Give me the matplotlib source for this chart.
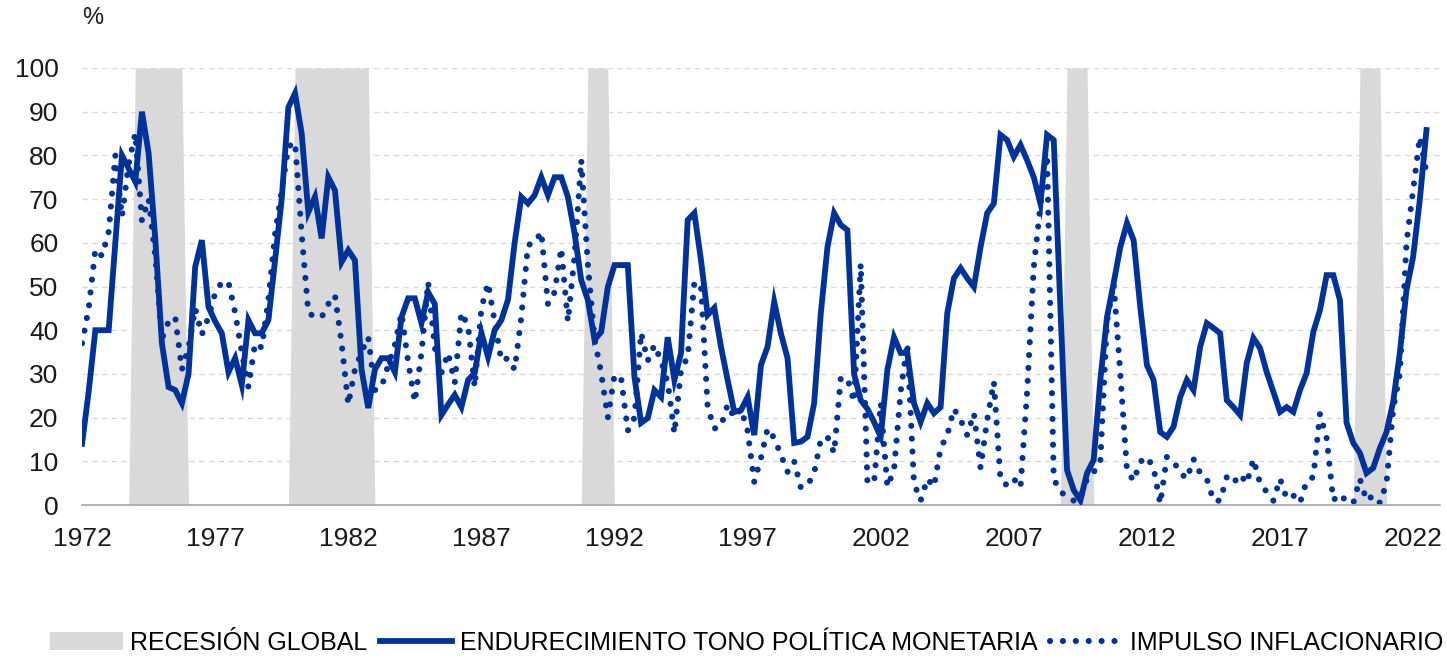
import numpy as np
import matplotlib
matplotlib.use("Agg")
import matplotlib.pyplot as plt
from matplotlib.patches import Patch
from matplotlib.lines import Line2D

plt.rcParams['font.family'] = ['Liberation Sans', 'DejaVu Sans']

# quarterly data, 1972Q1 .. 2022Q3
tightening = [
    14, 26, 40, 40,          # 1972
    40, 60, 80, 77,          # 1973
    74, 90, 80.5, 61,        # 1974
    37, 27, 26.3, 23.3,      # 1975
    30, 54.5, 60.6, 45.3,    # 1976
    42, 39.3, 30.4, 33.6,    # 1977
    27.5, 42.3, 39.3, 39.3,  # 1978
    42.3, 56, 70, 91,        # 1979
    94.2, 85, 67, 70.5,      # 1980
    61, 75, 72, 55.6,        # 1981
    58.3, 56, 31, 22.2,      # 1982
    31, 33.6, 33.6, 30.4,    # 1983
    43, 47.3, 47.3, 41.6,    # 1984
    48.7, 46, 20.6, 23,      # 1985
    25.2, 22.4, 28.6, 30.2,  # 1986
    39.4, 33.9, 40, 42.3,    # 1987
    47, 60, 70.5, 69,        # 1988
    70.9, 75, 70.9, 75,      # 1989
    75, 70.5, 62.2, 51.5,    # 1990
    46.9, 37.8, 39.6, 49.9,  # 1991
    54.9, 54.9, 54.9, 29.3,  # 1992
    18.8, 19.9, 26.3, 24.7,  # 1993
    38.4, 28.6, 34.8, 65.2,  # 1994
    66.8, 56, 43.5, 45.1,    # 1995
    36.2, 28.6, 21.3, 21.7,  # 1996
    24.7, 16, 32, 36.2,      # 1997
    46.5, 39.3, 33.6, 14.2,  # 1998
    14.5, 15.6, 23.3, 43.9,  # 1999
    59, 66.8, 64.1, 62.9,    # 2000
    30, 24, 22, 19,          # 2001
    15.6, 30.9, 38.4, 34.8,  # 2002
    34.8, 23.3, 19, 23.3,    # 2003
    21, 22.4, 43.9, 51.9,    # 2004
    54.2, 51.9, 49.9, 59,    # 2005
    66.8, 69, 84.7, 83.5,    # 2006
    79.7, 82.4, 78.9, 75,    # 2007
    69, 84.7, 83.5, 45,      # 2008
    8, 3.4, 1.1, 7.3,        # 2009
    10.3, 28.6, 43, 50.8,    # 2010
    59, 64.5, 60.6, 45.3,    # 2011
    32, 28.6, 16.7, 15.6,    # 2012
    17.9, 24.7, 28.6, 26.3,  # 2013
    36.2, 41.6, 40.5, 39.3,  # 2014
    24, 22.4, 20.6, 32.5,    # 2015
    38.2, 35.9, 30.4, 25.9,  # 2016
    21.3, 22.4, 21.3, 26.3,  # 2017
    30.2, 39.6, 44.6, 52.6,  # 2018
    52.6, 46.9, 18.8, 14.2,  # 2019
    11.9, 7.3, 8.5, 13,      # 2020
    16.7, 23.6, 34.8, 49.2,  # 2021
    56.8, 69.8, 85.8,        # 2022
]

inflation = [
    37, 45, 58.5, 57,        # 1972
    62.5, 80, 66, 78,        # 1973
    85, 65, 70, 57,          # 1974
    38, 42, 43, 31,          # 1975
    36, 45, 39, 43,          # 1976
    48.5, 51, 51, 44,        # 1977
    35, 27, 37, 36,          # 1978
    47, 62, 72, 82,          # 1979
    83, 62, 44, 43,          # 1980
    43, 46, 48, 37,          # 1981
    23, 31, 35, 38.4,        # 1982
    26.3, 27, 32, 36.6,      # 1983
    43.9, 32.7, 23.6, 34.8,  # 1984
    51, 36, 30.2, 34.8,      # 1985
    28, 44, 41, 27,          # 1986
    45, 50.8, 42, 33,        # 1987
    33.6, 31, 43, 59.5,      # 1988
    60, 62.5, 46, 48.7,      # 1989
    58.8, 42, 57, 79,        # 1990
    55, 38, 30.2, 20,        # 1991
    29.7, 29, 17, 20,        # 1992
    39.4, 33, 36.6, 33,      # 1993
    28, 16.4, 30.9, 33.9,    # 1994
    51, 50, 22.4, 17.5,      # 1995
    18, 23, 20, 22,          # 1996
    17, 5.3, 10.7, 17.5,     # 1997
    15.3, 11.5, 7.6, 10,     # 1998
    4, 4.5, 7.3, 15,         # 1999
    15.6, 11.9, 29, 29,      # 2000
    23.6, 55.2, 5.5, 5,      # 2001
    23.3, 4.2, 8, 26,        # 2002
    37, 5, 1, 6,             # 2003
    4.2, 13, 16, 22,         # 2004
    19.5, 16, 21, 8.5,       # 2005
    19.5, 28.2, 5.7, 4.5,    # 2006
    6, 4, 26, 54.5,          # 2007
    68.6, 80, 6, 3,          # 2008
    2, 1, 1.5, 6,            # 2009
    7.5, 10, 42, 50.8,       # 2010
    30, 8, 5.5, 9.9,         # 2011
    11, 8.5, 0.3, 11,        # 2012
    10, 7.4, 6, 10.5,        # 2013
    7.3, 6, 1, 1,            # 2014
    6.4, 5, 7, 5,            # 2015
    10.5, 5, 3, 1,           # 2016
    6, 1.5, 2.2, 0.5,        # 2017
    5.5, 6.4, 20.9, 15.3,    # 2018
    1.1, 2.5, 0.8, 0.4,      # 2019
    6, 1, 2.2, 0.5,          # 2020
    5, 22, 30, 60,           # 2021
    72, 84.2, 76,            # 2022
]

rec_start = [1974.0, 1980.0, 1991.0, 2009.0, 2020.0]
rec_end = [1975.75, 1982.75, 1991.75, 2009.75, 2020.75]

year_ticks = [1972, 1977, 1982, 1987, 1992, 1997, 2002, 2007, 2012, 2017, 2022]

labels = ["RECESIÓN GLOBAL", "ENDURECIMIENTO TONO POLÍTICA MONETARIA",
          "IMPULSO INFLACIONARIO"]

blue = '#003399'
grey = '#D9D9D9'
dots = (0, (0.01, 2.1))

dates = 1972 + np.arange(len(tightening)) / 4.0
recession = np.zeros(len(dates))
for s, e in zip(rec_start, rec_end):
    recession[(dates >= s - 1e-9) & (dates <= e + 1e-9)] = 100

fig = plt.figure(figsize=(14.47, 6.60), dpi=100)
ax = fig.add_axes([0.0567, 0.2348, 0.9383, 0.6622])

ax.fill_between(dates, 0, recession, color=grey, lw=0, zorder=1)
ax.plot(dates, tightening, color=blue, lw=4.2, solid_joinstyle='miter', zorder=3)
ax.plot(dates, inflation, color=blue, lw=4.4, linestyle=dots,
        dash_capstyle='round', zorder=2)

ax.set_xlim(1972, 2023)
ax.set_ylim(0, 100)
ax.set_yticks(range(0, 101, 10))
ax.set_xticks(year_ticks)
ax.yaxis.grid(True, color='#D9D9D9', linestyle=(0, (4, 3)), lw=1)
ax.set_axisbelow(True)
for s in ['top', 'right', 'left']:
    ax.spines[s].set_visible(False)
ax.spines['bottom'].set_color('#A6A6A6')
ax.spines['bottom'].set_linewidth(1.2)
ax.tick_params(axis='both', length=0, labelsize=19, colors='#1a1a1a')
ax.tick_params(axis='y', pad=17)
ax.tick_params(axis='x', pad=16)

fig.text(0.057, 0.972, '%', fontsize=17, color='#1a1a1a', va='center')

handles = [Patch(facecolor=grey, edgecolor='none'),
           Line2D([], [], color=blue, lw=4.2),
           Line2D([], [], color=blue, lw=4.4, linestyle=dots,
                  dash_capstyle='round')]
fig.legend(handles, labels, loc='center', bbox_to_anchor=(0.516, 0.026),
           ncol=3, frameon=False, fontsize=18, handlelength=2.9,
           handletextpad=0.3, columnspacing=0.5, handleheight=0.7)

fig.savefig('out.png', dpi=100)
